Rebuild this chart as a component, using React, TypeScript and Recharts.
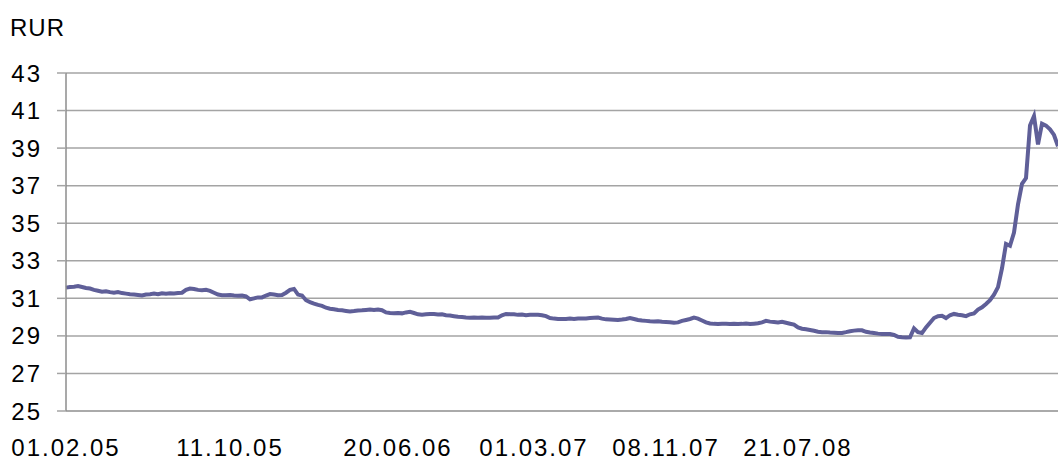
import { LineChart, Line, XAxis, YAxis, CartesianGrid } from 'recharts'

// weekly samples of the RUR basket rate, 01.02.05 .. end of Feb 2009
const RATE = [
  31.57, 31.6, 31.62, 31.65, 31.6, 31.55, 31.52, 31.45, 31.4, 31.35,
  31.38, 31.33, 31.3, 31.33, 31.28, 31.25, 31.22, 31.2, 31.18, 31.15,
  31.2, 31.22, 31.25, 31.22, 31.27, 31.25, 31.27, 31.26, 31.28, 31.3,
  31.45, 31.52, 31.5, 31.45, 31.43, 31.45, 31.4, 31.3, 31.2, 31.17,
  31.17, 31.18, 31.15, 31.14, 31.15, 31.1, 30.95, 31.0, 31.05, 31.05,
  31.15, 31.23, 31.2, 31.17, 31.18, 31.3, 31.45, 31.5, 31.2, 31.15,
  30.9, 30.8, 30.72, 30.65, 30.6, 30.5, 30.45, 30.42, 30.38, 30.36,
  30.33, 30.3, 30.32, 30.35, 30.36, 30.38, 30.4, 30.38, 30.4, 30.37,
  30.25, 30.22, 30.2, 30.22, 30.2, 30.25, 30.28, 30.22, 30.15, 30.13,
  30.15, 30.17, 30.16, 30.14, 30.15, 30.1, 30.08, 30.05, 30.02, 30.0,
  29.98, 29.97, 29.98, 29.97, 29.98, 29.97, 29.97, 29.98, 29.98, 30.1,
  30.17, 30.15, 30.15, 30.12, 30.14, 30.1, 30.12, 30.13, 30.12, 30.1,
  30.05, 29.95, 29.92, 29.9, 29.9, 29.9, 29.92, 29.9, 29.93, 29.92,
  29.93, 29.95, 29.97, 29.98, 29.92, 29.88, 29.87, 29.86, 29.85, 29.87,
  29.9, 29.95, 29.9, 29.85, 29.82, 29.8, 29.78, 29.77, 29.78, 29.75,
  29.74, 29.73, 29.7, 29.72, 29.8, 29.85, 29.9, 29.97, 29.92, 29.82,
  29.72, 29.66, 29.64, 29.63, 29.65, 29.64, 29.63, 29.65, 29.63, 29.64,
  29.66, 29.63, 29.65, 29.67, 29.72, 29.8, 29.76, 29.74, 29.72, 29.75,
  29.7, 29.65, 29.6, 29.45, 29.38, 29.35, 29.31, 29.27, 29.22, 29.2,
  29.2, 29.18, 29.17, 29.15, 29.16, 29.2, 29.25, 29.28, 29.3, 29.3,
  29.22, 29.18, 29.15, 29.12, 29.1, 29.1, 29.1, 29.05, 28.95, 28.93,
  28.92, 28.93, 29.4, 29.2, 29.15, 29.45, 29.7, 29.95, 30.05, 30.07,
  29.95, 30.1, 30.17, 30.13, 30.1, 30.05, 30.15, 30.2, 30.4, 30.52,
  30.7, 30.9, 31.2, 31.6, 32.6, 33.9, 33.8, 34.5, 36.0, 37.1,
  37.4, 40.2, 40.7, 39.2, 40.3, 40.2, 40.0, 39.7, 39.1,
]

const TICK_LABELS = ['01.02.05', '11.10.05', '20.06.06', '01.03.07', '08.11.07', '21.07.08']
const TICK_WEEKS = [0, 41, 83, 117, 150, 183]
const Y_TICKS = [25, 27, 29, 31, 33, 35, 37, 39, 41, 43]

const data = RATE.map((v, i) => ({ week: i, rate: v }))

const FONT = '"Liberation Sans", Arial, sans-serif'

export default function App() {
  return (
    <div style={{ position: 'relative', width: 1058, height: 463, background: '#fff', fontFamily: FONT }}>
      <style>{'body{margin:0}'}</style>
      <div style={{ position: 'absolute', left: 10, top: 14, fontSize: 24, letterSpacing: 1, color: '#000' }}>
        RUR
      </div>
      <LineChart width={1058} height={463} data={data} margin={{ top: 73, right: 0, bottom: 0, left: 0 }}>
        <CartesianGrid vertical={false} stroke="#a4a4a4" strokeWidth={1.5} />
        <XAxis
          dataKey="week"
          type="number"
          domain={[0, RATE.length - 1]}
          ticks={TICK_WEEKS}
          interval={0}
          tickFormatter={(v: number) => TICK_LABELS[TICK_WEEKS.indexOf(v)] ?? ''}
          axisLine={{ stroke: '#a4a4a4', strokeWidth: 1.5 }}
          tickLine={false}
          tickSize={0}
          tickMargin={28}
          height={52}
          tick={{ fontSize: 24, fill: '#000', fontFamily: FONT, letterSpacing: 2 }}
        />
        <YAxis
          domain={[25, 43]}
          ticks={Y_TICKS}
          interval={0}
          width={66}
          axisLine={{ stroke: '#8c8c8c', strokeWidth: 1.5 }}
          tickLine={{ stroke: '#a4a4a4', strokeWidth: 1.5 }}
          tickSize={9}
          tickMargin={15}
          tick={{ fontSize: 24, fill: '#000', fontFamily: FONT, letterSpacing: 2 }}
        />
        <Line
          type="linear"
          dataKey="rate"
          stroke="#5f5f98"
          strokeWidth={4}
          dot={false}
          isAnimationActive={false}
        />
      </LineChart>
    </div>
  )
}
